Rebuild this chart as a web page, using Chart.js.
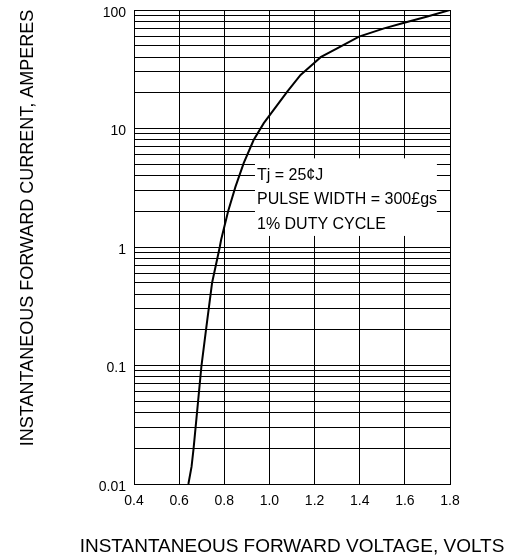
<!DOCTYPE html>
<html>
<head>
<meta charset="utf-8">
<script src="https://cdn.jsdelivr.net/npm/chart.js@4.4.0/dist/chart.umd.min.js"></script>
<style>
    html, body { margin: 0; padding: 0; background: #fff; }
</style>
</head>
<body>
<canvas id="chart" width="511" height="560"></canvas>
<script>
// Forward voltage / forward current curve
const voltage = [0.641, 0.655, 0.664, 0.684, 0.699, 0.719, 0.746, 0.78, 0.786, 0.817, 0.849, 0.886, 0.93, 0.975, 1.079, 1.138, 1.197, 1.227, 1.3, 1.397, 1.508, 1.597, 1.7, 1.8];
const current = [0.01, 0.014, 0.02, 0.05, 0.1, 0.2, 0.5, 1, 1.15, 2, 3.2, 5.1, 8, 11.1, 20.5, 28.3, 35.5, 40, 47.5, 59.6, 70, 78, 88, 100];

// Axis ticks
const xTickValues = [0.4, 0.6, 0.8, 1.0, 1.2, 1.4, 1.6, 1.8];
const xTickLabels = ['0.4', '0.6', '0.8', '1.0', '1.2', '1.4', '1.6', '1.8'];
const yDecades = [0.01, 0.1, 1, 10, 100];
const yTickLabels = ['0.01', '0.1', '1', '10', '100'];
const yMinorSteps = [2, 3, 4, 5, 6, 7, 8, 9];

// Texts
const xTitle = 'INSTANTANEOUS FORWARD VOLTAGE, VOLTS';
const yTitle = 'INSTANTANEOUS FORWARD CURRENT, AMPERES';
const noteLines = ['Tj = 25¢J', 'PULSE WIDTH = 300£gs', '1% DUTY CYCLE'];

const FONT = '"Liberation Sans", Arial, Helvetica, sans-serif';

// Log grid: every decade plus 2..9 in between
const yGridValues = [];
yDecades.forEach((d, i) => {
    yGridValues.push(d);
    if (i < yDecades.length - 1) {
        yMinorSteps.forEach(m => yGridValues.push(+(d * m).toPrecision(3)));
    }
});

// White box with the test conditions
const notePlugin = {
    id: 'noteBox',
    afterDatasetsDraw(chart) {
        const { ctx, scales: { x, y } } = chart;
        const left = x.getPixelForValue(0.936);
        const right = x.getPixelForValue(1.742);
        const top = y.getPixelForValue(5.6);
        const bottom = y.getPixelForValue(1.24);
        ctx.save();
        ctx.fillStyle = '#fff';
        ctx.fillRect(left, top, right - left, bottom - top);
        ctx.fillStyle = '#000';
        ctx.font = '16px ' + FONT;
        ctx.textAlign = 'left';
        ctx.textBaseline = 'middle';
        noteLines.forEach((t, i) => ctx.fillText(t, left + 2, top + 17 + i * 24.5));
        ctx.restore();
    }
};

// Axis titles
const titlePlugin = {
    id: 'axisTitles',
    afterDraw(chart) {
        const { ctx, chartArea } = chart;
        ctx.save();
        ctx.fillStyle = '#000';
        ctx.textAlign = 'center';
        ctx.textBaseline = 'middle';
        ctx.font = '19px ' + FONT;
        ctx.fillText(xTitle, (chartArea.left + chartArea.right) / 2, 547);
        ctx.font = '18px ' + FONT;
        ctx.translate(28, 228);
        ctx.rotate(-Math.PI / 2);
        ctx.fillText(yTitle, 0, 0);
        ctx.restore();
    }
};

new Chart(document.getElementById('chart'), {
    type: 'scatter',
    data: {
        datasets: [{
            data: voltage.map((v, i) => ({ x: v, y: current[i] })),
            showLine: true,
            borderColor: '#000',
            borderWidth: 2,
            pointRadius: 0,
            tension: 0
        }]
    },
    options: {
        responsive: false,
        animation: false,
        devicePixelRatio: 1,
        layout: { padding: { top: 10, right: 61, left: 0, bottom: 0 } },
        plugins: {
            legend: { display: false },
            tooltip: { enabled: false }
        },
        scales: {
            x: {
                type: 'linear',
                min: 0.4,
                max: 1.8,
                afterBuildTicks: scale => {
                    scale.ticks = xTickValues.map(v => ({ value: v }));
                },
                afterFit: scale => {
                    scale.height = 76;
                    scale.paddingLeft = 0;
                    scale.paddingRight = 0;
                },
                ticks: {
                    autoSkip: false,
                    maxRotation: 0,
                    padding: 9,
                    color: '#000',
                    font: { family: FONT, size: 14 },
                    callback: (v, i) => xTickLabels[i]
                },
                grid: { color: '#000', lineWidth: 1, drawTicks: false },
                border: { color: '#000', width: 1 }
            },
            y: {
                type: 'logarithmic',
                min: 0.01,
                max: 100,
                afterBuildTicks: scale => {
                    scale.ticks = yGridValues.map(v => ({ value: v }));
                },
                afterFit: scale => {
                    scale.width = 134;
                    scale.paddingTop = 0;
                    scale.paddingBottom = 0;
                },
                ticks: {
                    autoSkip: false,
                    padding: 8,
                    labelOffset: 3,
                    color: '#000',
                    font: { family: FONT, size: 14 },
                    callback: function(v) {
                        const k = yDecades.findIndex(d => Math.abs(d - v) / d < 1e-6);
                        return k >= 0 ? yTickLabels[k] : '';
                    }
                },
                grid: { color: '#000', lineWidth: 1, drawTicks: false },
                border: { color: '#000', width: 1 }
            }
        }
    },
    plugins: [notePlugin, titlePlugin]
});
</script>
</body>
</html>
